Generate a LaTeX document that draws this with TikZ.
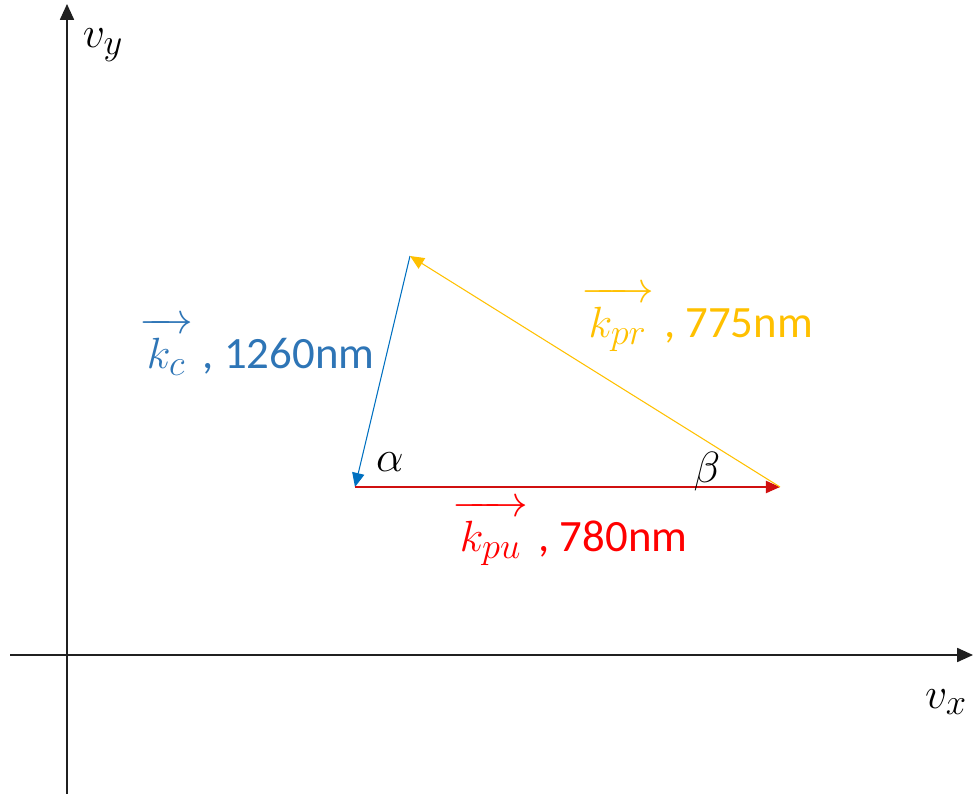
\documentclass[tikz,border=0pt]{standalone}
\usepackage{fontspec}
\setmainfont{Carlito}
\usetikzlibrary{arrows.meta,positioning}
\definecolor{kccol}{HTML}{2E75B6}
\definecolor{kcline}{HTML}{0070C0}
\definecolor{kprcol}{HTML}{FFC000}
\definecolor{kpucol}{HTML}{FF0000}
\definecolor{kpuline}{HTML}{D01010}
\definecolor{axiscol}{HTML}{202020}
\newcommand{\bigmath}[1]{{\fontsize{29}{33}\selectfont$#1$}}
\newcommand{\kvec}[1]{\bigmath{\overrightarrow{\,\rule{0pt}{0.73em}#1\,}}}

\begin{document}
\begin{tikzpicture}[x=0.02cm,y=-0.02cm,font=\fontsize{25.5}{30}\selectfont,
    axis/.style={axiscol,line width=0.8pt,-{Triangle[length=9pt,width=8pt]}},
    vec/.style={line width=0.6pt,-{Triangle[length=8pt,width=7pt]}}]
    \useasboundingbox (0,0) rectangle (975,794);
    % axes
    \coordinate (ybot) at (67,794);
    \coordinate (ytop) at (67,4);
    \coordinate (xleft) at (10,655);
    \coordinate (xright) at (973,655);
    \draw[axis] (ybot) -- (ytop);
    \draw[axis] (xleft) -- (xright);
    \node (vy) at (103,45) {\bigmath{v_y}};
    \node (vx) at (946,702) {\bigmath{v_x}};
    % triangle corners
    \coordinate (A) at (355,487);
    \coordinate (T) at (410,256);
    \coordinate (R) at (780,487);
    \draw[vec,kcline] (T) -- (A);
    \draw[vec,kpuline] (A) -- (R);
    \draw[vec,kprcol] (R) -- (T);
    \node (alpha) at (390,462) {\bigmath{\alpha}};
    \node (beta) at (707,472) {\bigmath{\beta}};
    % labels
    \node[kccol] (kc) at (257,346) {\kvec{k_c} , 1260nm};
    \node[kprcol] (kpr) at (697,319) {\kvec{k_{pr}} , 775nm};
    \node[kpucol] (kpu) at (570,533) {\kvec{k_{pu}} , 780nm};
  \end{tikzpicture}
\end{document}
